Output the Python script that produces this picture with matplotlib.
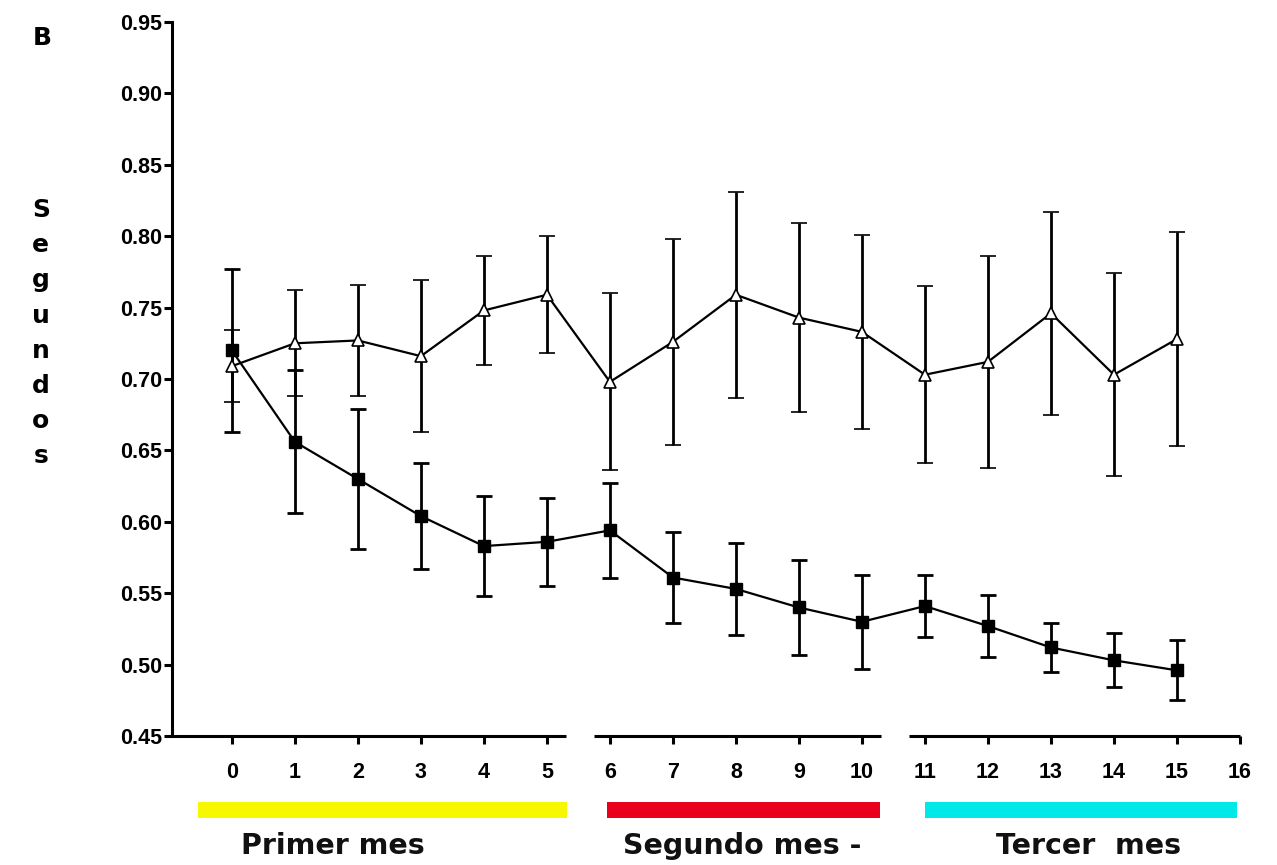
import matplotlib
matplotlib.use('Agg')
import matplotlib.pyplot as plt

# sesiones 0..15
dias = list(range(16))

# triangulos blancos
tri_media = [0.709, 0.725, 0.727, 0.716, 0.748, 0.759, 0.698, 0.726,
             0.759, 0.743, 0.733, 0.703, 0.712, 0.746, 0.703, 0.728]
tri_err = [0.025, 0.037, 0.039, 0.053, 0.038, 0.041, 0.062, 0.072,
           0.072, 0.066, 0.068, 0.062, 0.074, 0.071, 0.071, 0.075]

# cuadrados negros
cua_media = [0.720, 0.656, 0.630, 0.604, 0.583, 0.586, 0.594, 0.561,
             0.553, 0.540, 0.530, 0.541, 0.527, 0.512, 0.503, 0.496]
cua_err = [0.057, 0.050, 0.049, 0.037, 0.035, 0.031, 0.033, 0.032,
           0.032, 0.033, 0.033, 0.022, 0.022, 0.017, 0.019, 0.021]

y_ticks = [0.45, 0.50, 0.55, 0.60, 0.65, 0.70, 0.75, 0.80, 0.85, 0.90, 0.95]
x_ticks = list(range(17))

# tramos del eje x (roto)
tramos = [(-0.95, 5.3), (5.75, 10.3), (10.75, 16)]

meses = ['Primer mes', 'Segundo mes -', 'Tercer  mes']
meses_x = [1.6, 8.1, 13.6]
barras = [(-0.54, 5.32), (5.95, 10.29), (11.0, 15.95)]
colores = ['#f7f700', '#e8001c', '#00e8e8']

fig = plt.figure(figsize=(12.77, 8.65), dpi=100)
ax = fig.add_axes([0.1347, 0.1491, 0.8363, 0.8255])

ax.errorbar(dias, cua_media, yerr=cua_err, color='black', lw=1.6,
            marker='s', ms=8.5, mfc='black', mec='black',
            elinewidth=2.0, capsize=5.5, capthick=2.0, zorder=3)
ax.errorbar(dias, tri_media, yerr=tri_err, color='black', lw=1.6,
            marker='^', ms=8.5, mfc='white', mec='black', mew=1.2,
            elinewidth=2.0, capsize=5.5, capthick=2.0, zorder=4)

ax.set_xlim(-0.95, 16)
ax.set_ylim(0.45, 0.95)

ax.spines['top'].set_visible(False)
ax.spines['right'].set_visible(False)
ax.spines['bottom'].set_visible(False)
ax.spines['left'].set_linewidth(2.2)

for a, b in tramos:
    ax.plot([a, b], [0.45, 0.45], color='black', lw=2.2, clip_on=False,
            solid_capstyle='butt', zorder=5)

ax.set_yticks(y_ticks)
ax.set_yticklabels(['%.2f' % v for v in y_ticks])
ax.set_xticks(x_ticks)
ax.tick_params(axis='both', direction='out', length=6, width=2.2,
               labelsize=15.5, pad=1)
ax.tick_params(axis='x', pad=13)
for lab in ax.get_xticklabels() + ax.get_yticklabels():
    lab.set_fontfamily('Liberation Sans')
    lab.set_fontweight('bold')

for (a, b), c in zip(barras, colores):
    ax.plot([a, b], [0.398, 0.398], color=c, lw=11.5, clip_on=False,
            solid_capstyle='butt')

for t, xm in zip(meses, meses_x):
    ax.text(xm, 0.373, t, ha='center', va='center', fontsize=20.5,
            fontweight='bold', family='DejaVu Sans', color='#111111')

fig.text(0.033, 0.956, 'B', fontsize=18, fontweight='bold',
         family='DejaVu Sans', ha='center', va='center')
fig.text(0.032, 0.615, '\n'.join('Segundos'), fontsize=18, fontweight='bold',
         family='DejaVu Sans', ha='center', va='center', linespacing=1.58)

fig.savefig('out.png', dpi=100)
